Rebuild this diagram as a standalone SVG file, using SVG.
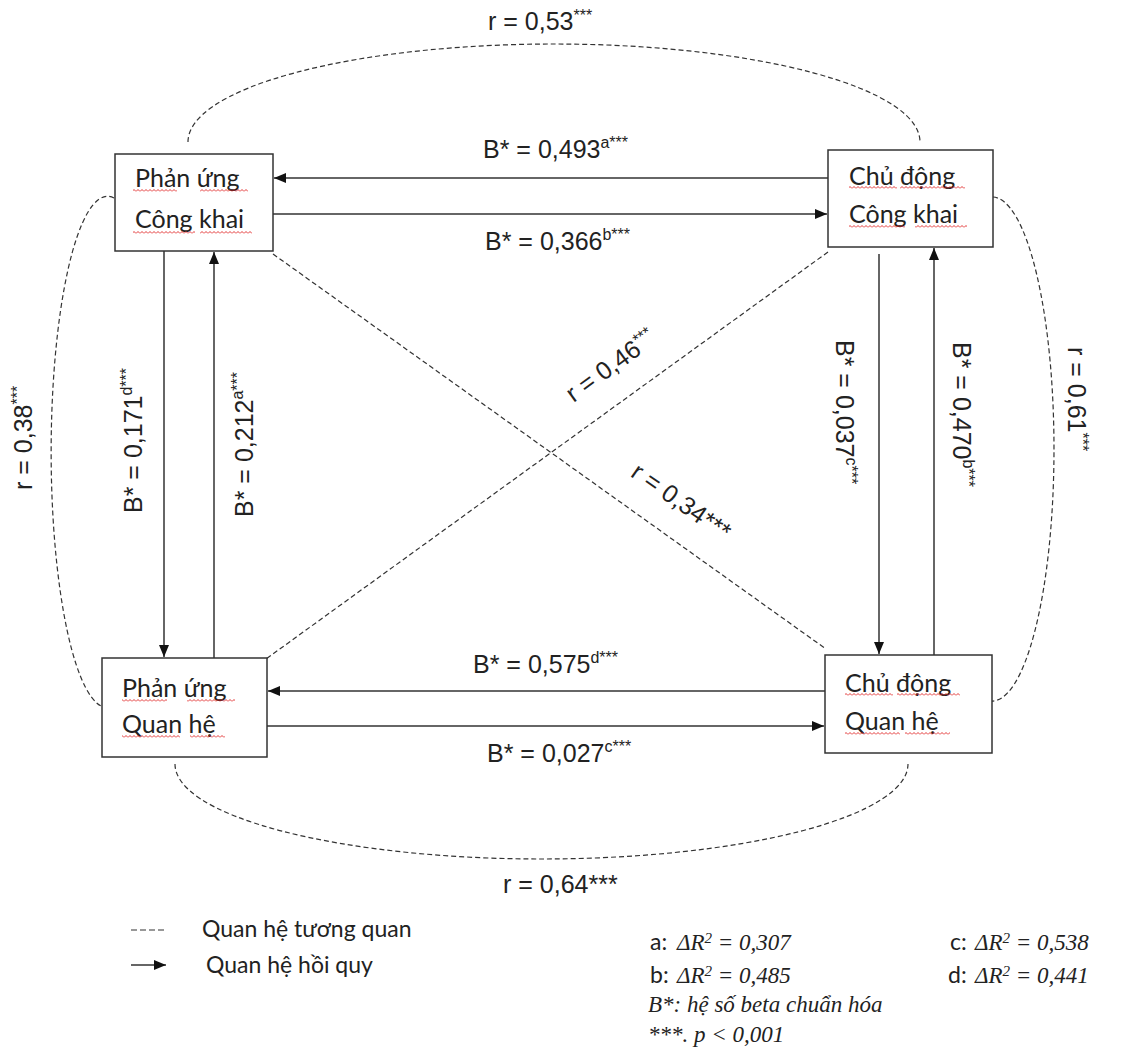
<svg xmlns="http://www.w3.org/2000/svg" width="1129" height="1057" viewBox="0 0 1129 1057">
<style>
.box{fill:#fff;stroke:#333;stroke-width:1.5}
.nt{font-family:Lato,"Open Sans",sans-serif;font-size:25px;fill:#222}
.lb{font-family:"Liberation Sans",Arial,sans-serif;font-size:25px;fill:#222}
.sup{font-size:16px}
.arr{stroke:#333;stroke-width:1.5;fill:none;marker-end:url(#ah)}
.dash{stroke:#333;stroke-width:1.2;fill:none;stroke-dasharray:5,3}
.lg{font-family:Lato,"Open Sans",sans-serif;font-size:23px;fill:#222}
.tm{font-family:"Liberation Serif","Times New Roman",serif;font-size:23px;font-style:italic;fill:#222}
</style>
<defs>
<marker id="ah" viewBox="0 0 12 10" refX="12" refY="5" markerWidth="12" markerHeight="10" markerUnits="userSpaceOnUse" orient="auto">
<path d="M0,0 L12,5 L0,10 Z" fill="#111"/>
</marker>
<pattern id="sq" width="4" height="3" patternUnits="userSpaceOnUse">
<path d="M0,2.5 L2,0.5 L4,2.5" stroke="#e02020" fill="none" stroke-width="0.9"/>
</pattern>
</defs>

<g id="connectors">
<!-- regression arrows -->
<line class="arr" x1="828" y1="178" x2="274" y2="178"/>
<line class="arr" x1="273" y1="214" x2="827" y2="214"/>
<line class="arr" x1="164" y1="251" x2="164" y2="657"/>
<line class="arr" x1="214" y1="658" x2="214" y2="252"/>
<line class="arr" x1="879" y1="254" x2="879" y2="654"/>
<line class="arr" x1="934" y1="655" x2="934" y2="248"/>
<line class="arr" x1="825" y1="691" x2="268" y2="691"/>
<line class="arr" x1="267" y1="726" x2="824" y2="726"/>
<!-- correlations -->
<path class="dash" d="M188,142 A366,98 0 0 1 920,142"/>
<path class="dash" d="M175,764 A366.5,95 0 0 0 908,764"/>
<path class="dash" d="M114,198 A56,254 0 0 0 101,706"/>
<path class="dash" d="M993,197 A62,252 0 0 1 991,701"/>
<line class="dash" x1="273" y1="254" x2="826" y2="649"/>
<line class="dash" x1="828" y1="252" x2="266" y2="659"/>
</g>

<g id="labels">
<text class="lb" x="483" y="158">B* = 0,493<tspan class="sup" dy="-10">a***</tspan></text>
<text class="lb" x="485" y="250">B* = 0,366<tspan class="sup" dy="-10">b***</tspan></text>
<text class="lb" x="473" y="673">B* = 0,575<tspan class="sup" dy="-10">d***</tspan></text>
<text class="lb" x="487" y="762">B* = 0,027<tspan class="sup" dy="-10">c***</tspan></text>
<text class="lb" transform="translate(142,513) rotate(-90)">B* = 0,171<tspan class="sup" dy="-10">d***</tspan></text>
<text class="lb" transform="translate(253,517) rotate(-90)">B* = 0,212<tspan class="sup" dy="-10">a***</tspan></text>
<text class="lb" transform="translate(836,340) rotate(90)">B* = 0,037<tspan class="sup" dy="-10">c***</tspan></text>
<text class="lb" transform="translate(953,342) rotate(90)">B* = 0,470<tspan class="sup" dy="-10">b***</tspan></text>
<text class="lb" x="488" y="30">r = 0,53<tspan class="sup" dy="-9">***</tspan></text>
<text class="lb" x="503" y="893">r = 0,64***</text>
<text class="lb" transform="translate(32,490) rotate(-90)">r = 0,38<tspan class="sup" dy="-9">***</tspan></text>
<text class="lb" transform="translate(1068,347) rotate(90)">r = 0,61<tspan class="sup" dy="-9">***</tspan></text>
<text class="lb" text-anchor="middle" transform="translate(611,366) rotate(-36)" y="8">r = 0,46<tspan class="sup" dy="-9">***</tspan></text>
<text class="lb" text-anchor="middle" transform="translate(681,502) rotate(35)" y="8">r = 0,34***</text>
</g>

<g id="node-pu-ck">
<rect class="box" x="115" y="154" width="158" height="97"/>
<text class="nt" x="135" y="187">Phản ứng</text>
<text class="nt" x="135" y="228">Công khai</text>
<rect x="133" y="189" width="44" height="3" fill="url(#sq)"/>
<rect x="200" y="189" width="48" height="3" fill="url(#sq)"/>
<rect x="133" y="231" width="62" height="3" fill="url(#sq)"/>
<rect x="200" y="231" width="52" height="3" fill="url(#sq)"/>
</g>

<g id="node-cd-ck">
<rect class="box" x="828" y="150" width="165" height="97"/>
<text class="nt" x="849" y="185">Chủ động</text>
<text class="nt" x="849" y="223">Công khai</text>
<rect x="849" y="186" width="48" height="3" fill="url(#sq)"/>
<rect x="900" y="186" width="65" height="3" fill="url(#sq)"/>
<rect x="849" y="225" width="56" height="3" fill="url(#sq)"/>
<rect x="915" y="225" width="52" height="3" fill="url(#sq)"/>
</g>

<g id="node-pu-qh">
<rect class="box" x="102" y="658" width="165" height="99"/>
<text class="nt" x="122" y="697">Phản ứng</text>
<text class="nt" x="122" y="733">Quan hệ</text>
<rect x="122" y="699" width="45" height="3" fill="url(#sq)"/>
<rect x="187" y="699" width="48" height="3" fill="url(#sq)"/>
<rect x="122" y="735" width="58" height="3" fill="url(#sq)"/>
<rect x="190" y="735" width="35" height="3" fill="url(#sq)"/>
</g>

<g id="node-cd-qh">
<rect class="box" x="825" y="655" width="167" height="98"/>
<text class="nt" x="845" y="692">Chủ động</text>
<text class="nt" x="845" y="730">Quan hệ</text>
<rect x="845" y="693" width="48" height="3" fill="url(#sq)"/>
<rect x="897" y="693" width="63" height="3" fill="url(#sq)"/>
<rect x="845" y="732" width="55" height="3" fill="url(#sq)"/>
<rect x="905" y="732" width="45" height="3" fill="url(#sq)"/>
</g>

<g id="legend">
<line x1="131" y1="930" x2="166" y2="930" stroke="#333" stroke-width="1.2" stroke-dasharray="6,3"/>
<text class="lg" x="202" y="937">Quan hệ tương quan</text>
<line class="arr" x1="131" y1="965" x2="166" y2="965"/>
<text class="lg" x="206" y="973">Quan hệ hồi quy</text>
</g>

<g id="notes">
<text class="lg" x="650" y="950">a:<tspan class="tm" x="677">ΔR<tspan font-size="15" dy="-7">2</tspan><tspan dy="7"> = 0,307</tspan></tspan></text>
<text class="lg" x="950" y="950">c:<tspan class="tm" x="975">ΔR<tspan font-size="15" dy="-7">2</tspan><tspan dy="7"> = 0,538</tspan></tspan></text>
<text class="lg" x="650" y="983">b:<tspan class="tm" x="677">ΔR<tspan font-size="15" dy="-7">2</tspan><tspan dy="7"> = 0,485</tspan></tspan></text>
<text class="lg" x="948" y="983">d:<tspan class="tm" x="975">ΔR<tspan font-size="15" dy="-7">2</tspan><tspan dy="7"> = 0,441</tspan></tspan></text>
<text class="tm" x="648" y="1012">B*: hệ số beta chuẩn hóa</text>
<text class="tm" x="648" y="1042">***. p &lt; 0,001</text>
</g>
</svg>
